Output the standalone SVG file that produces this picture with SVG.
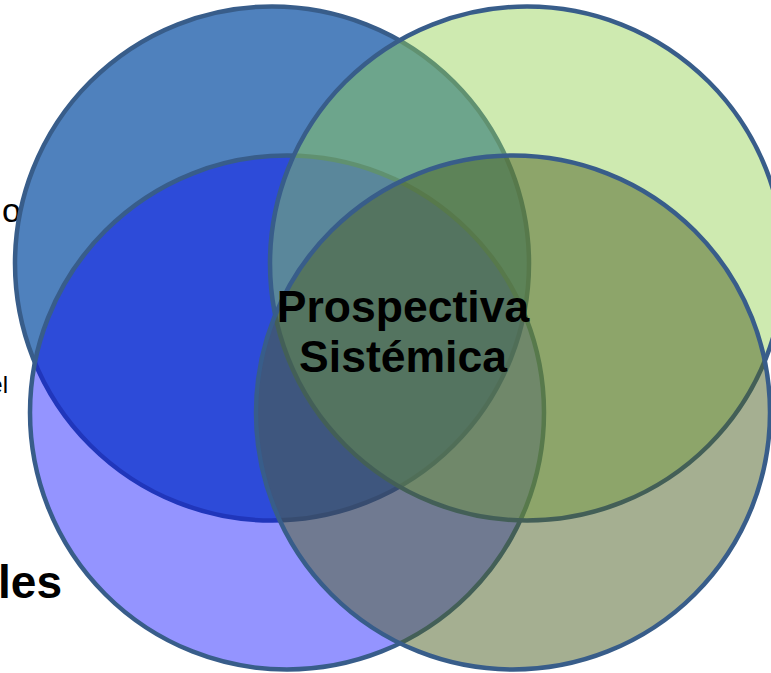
<svg xmlns="http://www.w3.org/2000/svg" width="771" height="673" viewBox="0 0 771 673">
  <style>
    .ring { stroke: #385D8A; stroke-width: 4.5; }
    .label { font-family: "Liberation Sans", Arial, sans-serif; fill: #000000; }
    .bold { font-weight: bold; }
  </style>
  <rect width="771" height="673" fill="#FFFFFF"/>

  <!-- partial side labels cut by the frame -->
  <text class="label" x="21" y="222" font-size="34" text-anchor="end">o</text>
  <text class="label" x="8" y="393" font-size="24" text-anchor="end">el</text>
  <text class="label bold" x="62" y="598" font-size="46" text-anchor="end">les</text>

  <!-- four overlapping sets, drawn back to front -->
  <g id="set-top-left">
    <circle class="ring" cx="272" cy="263.5" r="257" fill="#4F81BD"/>
  </g>
  <g id="set-bottom-left">
    <circle class="ring" cx="287" cy="412.5" r="257" fill="#0000FF" fill-opacity="0.42"/>
  </g>
  <g id="set-top-right">
    <circle class="ring" cx="527" cy="263.5" r="257" fill="#92D050" fill-opacity="0.45"/>
  </g>
  <g id="set-bottom-right">
    <circle class="ring" cx="513" cy="412.5" r="257" fill="#4F6228" fill-opacity="0.51"/>
  </g>

  <g id="center-label">
    <text class="label bold" x="403" y="322" font-size="44.5" text-anchor="middle">Prospectiva</text>
    <text class="label bold" x="403" y="372" font-size="44.5" text-anchor="middle">Sistémica</text>
  </g>

  <g id="connectors"/>
</svg>
